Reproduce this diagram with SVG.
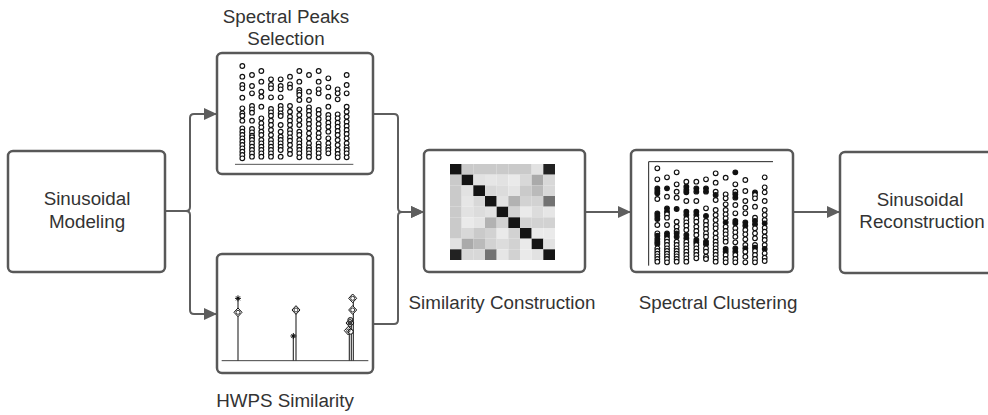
<svg xmlns="http://www.w3.org/2000/svg" width="988" height="415" viewBox="0 0 988 415">
  <style>
    .box { fill: #ffffff; stroke: #585858; stroke-width: 2.5; }
    .lbl { font-family: "Liberation Sans", Arial, sans-serif; font-size: 18.8px; fill: #333333; text-anchor: middle; }
    .wire { fill: none; stroke: #5e5e5e; stroke-width: 2; }
    .pk circle { fill: #ffffff; stroke: #111111; stroke-width: 3.6; }
    .cl circle { fill: #ffffff; stroke: #111111; stroke-width: 3.6; }
    .cl circle.f { fill: #111111; }
    .axis { stroke: #222222; stroke-width: 3; fill: none; }
    .stem { stroke: #333333; stroke-width: 3.5; fill: none; }
    .dia { fill: #ffffff; stroke: #111111; stroke-width: 3; }
    .star { stroke: #111111; stroke-width: 3; fill: none; }
  </style>
  <defs>
    <marker id="arrow" markerUnits="userSpaceOnUse" markerWidth="13" markerHeight="12" refX="13" refY="6" orient="auto">
      <path d="M0,0 L13,6 L0,12 z" fill="#5e5e5e"/>
    </marker>
  </defs>

  <rect width="988" height="415" fill="#ffffff"/>

  <!-- connectors -->
  <g id="connectors">
    <path class="wire" d="M165,211 H186 Q190,211 190,207 V118 Q190,114 194,114 H217" marker-end="url(#arrow)"/>
    <path class="wire" d="M165,211 H186 Q190,211 190,215 V310 Q190,314 194,314 H217" marker-end="url(#arrow)"/>
    <path class="wire" d="M373,114 H394 Q398,114 398,118 V208 Q398,212 402,212 H424" marker-end="url(#arrow)"/>
    <path class="wire" d="M373,324 H394 Q398,324 398,320 V216 Q398,212 402,212 H424" marker-end="url(#arrow)"/>
    <path class="wire" d="M585,212 H631" marker-end="url(#arrow)"/>
    <path class="wire" d="M793,212 H840" marker-end="url(#arrow)"/>
  </g>

  <!-- Sinusoidal Modeling -->
  <g id="modeling">
    <rect class="box" x="8" y="151" width="157" height="121" rx="5"/>
    <text class="lbl" x="87" y="205">Sinusoidal</text>
    <text class="lbl" x="87" y="228">Modeling</text>
  </g>

  <!-- Spectral Peaks Selection -->
  <g id="peaks">
    <text class="lbl" x="286" y="23">Spectral Peaks</text>
    <text class="lbl" x="286" y="45">Selection</text>
    <rect class="box" x="217" y="53" width="156" height="121" rx="5"/>
    <g class="pk" transform="translate(210,50) scale(0.33333)">
      <line class="axis" x1="75" y1="343" x2="430" y2="343" style="stroke:#555;stroke-width:3"/>
      <g transform="translate(97,0)">
        <circle r="7" cy="48"/><circle r="7" cy="80"/><circle r="7" cy="105"/><circle r="7" cy="115"/><circle r="7" cy="143"/><circle r="7" cy="175"/><circle r="7" cy="190"/><circle r="7" cy="197"/><circle r="7" cy="212"/><circle r="7" cy="235"/><circle r="7" cy="245"/><circle r="7" cy="255"/><circle r="7" cy="265"/><circle r="7" cy="275"/><circle r="7" cy="285"/><circle r="7" cy="295"/><circle r="7" cy="305"/><circle r="7" cy="315"/><circle r="7" cy="325"/>
      </g>
      <g transform="translate(126,0)">
        <circle r="7" cy="75"/><circle r="7" cy="108"/><circle r="7" cy="130"/><circle r="7" cy="168"/><circle r="7" cy="178"/><circle r="7" cy="188"/><circle r="7" cy="212"/><circle r="7" cy="237"/><circle r="7" cy="247"/><circle r="7" cy="257"/><circle r="7" cy="262"/><circle r="7" cy="270"/><circle r="7" cy="280"/><circle r="7" cy="290"/><circle r="7" cy="300"/><circle r="7" cy="310"/><circle r="7" cy="320"/>
      </g>
      <g transform="translate(154,0)">
        <circle r="7" cy="63"/><circle r="7" cy="95"/><circle r="7" cy="125"/><circle r="7" cy="140"/><circle r="7" cy="170"/><circle r="7" cy="205"/><circle r="7" cy="220"/><circle r="7" cy="232"/><circle r="7" cy="245"/><circle r="7" cy="255"/><circle r="7" cy="270"/><circle r="7" cy="280"/><circle r="7" cy="290"/><circle r="7" cy="300"/><circle r="7" cy="310"/><circle r="7" cy="320"/>
      </g>
      <g transform="translate(183,0)">
        <circle r="7" cy="88"/><circle r="7" cy="105"/><circle r="7" cy="115"/><circle r="7" cy="142"/><circle r="7" cy="177"/><circle r="7" cy="187"/><circle r="7" cy="197"/><circle r="7" cy="212"/><circle r="7" cy="225"/><circle r="7" cy="240"/><circle r="7" cy="255"/><circle r="7" cy="270"/><circle r="7" cy="280"/><circle r="7" cy="290"/><circle r="7" cy="300"/><circle r="7" cy="310"/><circle r="7" cy="320"/>
      </g>
      <g transform="translate(212,0)">
        <circle r="7" cy="88"/><circle r="7" cy="108"/><circle r="7" cy="118"/><circle r="7" cy="142"/><circle r="7" cy="168"/><circle r="7" cy="178"/><circle r="7" cy="190"/><circle r="7" cy="198"/><circle r="7" cy="225"/><circle r="7" cy="245"/><circle r="7" cy="260"/><circle r="7" cy="270"/><circle r="7" cy="280"/><circle r="7" cy="290"/><circle r="7" cy="300"/><circle r="7" cy="320"/>
      </g>
      <g transform="translate(240,0)">
        <circle r="7" cy="80"/><circle r="7" cy="103"/><circle r="7" cy="113"/><circle r="7" cy="168"/><circle r="7" cy="185"/><circle r="7" cy="200"/><circle r="7" cy="212"/><circle r="7" cy="225"/><circle r="7" cy="240"/><circle r="7" cy="250"/><circle r="7" cy="262"/><circle r="7" cy="272"/><circle r="7" cy="285"/><circle r="7" cy="300"/><circle r="7" cy="312"/>
      </g>
      <g transform="translate(268,0)">
        <circle r="7" cy="63"/><circle r="7" cy="95"/><circle r="7" cy="120"/><circle r="7" cy="127"/><circle r="7" cy="135"/><circle r="7" cy="150"/><circle r="7" cy="178"/><circle r="7" cy="195"/><circle r="7" cy="210"/><circle r="7" cy="225"/><circle r="7" cy="245"/><circle r="7" cy="255"/><circle r="7" cy="270"/><circle r="7" cy="280"/><circle r="7" cy="290"/><circle r="7" cy="300"/><circle r="7" cy="310"/><circle r="7" cy="322"/>
      </g>
      <g transform="translate(297,0)">
        <circle r="7" cy="75"/><circle r="7" cy="125"/><circle r="7" cy="150"/><circle r="7" cy="172"/><circle r="7" cy="183"/><circle r="7" cy="195"/><circle r="7" cy="210"/><circle r="7" cy="222"/><circle r="7" cy="235"/><circle r="7" cy="250"/><circle r="7" cy="265"/><circle r="7" cy="280"/><circle r="7" cy="292"/><circle r="7" cy="300"/><circle r="7" cy="310"/><circle r="7" cy="320"/>
      </g>
      <g transform="translate(326,0)">
        <circle r="7" cy="63"/><circle r="7" cy="95"/><circle r="7" cy="118"/><circle r="7" cy="130"/><circle r="7" cy="180"/><circle r="7" cy="192"/><circle r="7" cy="207"/><circle r="7" cy="222"/><circle r="7" cy="235"/><circle r="7" cy="250"/><circle r="7" cy="262"/><circle r="7" cy="280"/><circle r="7" cy="290"/><circle r="7" cy="300"/><circle r="7" cy="310"/><circle r="7" cy="322"/>
      </g>
      <g transform="translate(355,0)">
        <circle r="7" cy="85"/><circle r="7" cy="112"/><circle r="7" cy="140"/><circle r="7" cy="170"/><circle r="7" cy="195"/><circle r="7" cy="205"/><circle r="7" cy="218"/><circle r="7" cy="230"/><circle r="7" cy="245"/><circle r="7" cy="265"/><circle r="7" cy="280"/><circle r="7" cy="292"/><circle r="7" cy="300"/><circle r="7" cy="310"/>
      </g>
      <g transform="translate(383,0)">
        <circle r="7" cy="118"/><circle r="7" cy="130"/><circle r="7" cy="148"/><circle r="7" cy="193"/><circle r="7" cy="205"/><circle r="7" cy="218"/><circle r="7" cy="230"/><circle r="7" cy="243"/><circle r="7" cy="255"/><circle r="7" cy="270"/><circle r="7" cy="285"/><circle r="7" cy="300"/><circle r="7" cy="312"/><circle r="7" cy="322"/>
      </g>
      <g transform="translate(410,0)">
        <circle r="7" cy="75"/><circle r="7" cy="105"/><circle r="7" cy="130"/><circle r="7" cy="170"/><circle r="7" cy="185"/><circle r="7" cy="200"/><circle r="7" cy="215"/><circle r="7" cy="228"/><circle r="7" cy="240"/><circle r="7" cy="252"/><circle r="7" cy="265"/><circle r="7" cy="280"/><circle r="7" cy="292"/><circle r="7" cy="300"/><circle r="7" cy="310"/><circle r="7" cy="322"/>
      </g>
    </g>
  </g>

  <!-- HWPS Similarity -->
  <g id="hwps">
    <rect class="box" x="217" y="254" width="156" height="119" rx="5"/>
    <g transform="translate(210,250) scale(0.33333)">
      <line x1="35" y1="332" x2="475" y2="332" style="stroke:#444;stroke-width:3"/>
      <line class="stem" x1="84" y1="332" x2="84" y2="148"/>
      <line class="stem" x1="250" y1="332" x2="250" y2="260"/>
      <line class="stem" x1="258" y1="332" x2="258" y2="182"/>
      <line class="stem" x1="418" y1="332" x2="418" y2="225"/>
      <line class="stem" x1="424" y1="332" x2="424" y2="212"/>
      <line class="stem" x1="430" y1="332" x2="430" y2="148"/>
      <!-- asterisk markers -->
      <path class="star" d="M75,145 H93 M84,136 V154 M78,139 L90,151 M90,139 L78,151"/>
      <circle cx="84" cy="145" r="4" fill="#111"/>
      <path class="star" d="M241,258 H259 M250,249 V267 M244,252 L256,264 M256,252 L244,264"/>
      <circle cx="250" cy="258" r="4" fill="#111"/>
      <!-- diamond markers -->
      <path class="dia" d="M84,174 L96,187 L84,200 L72,187 Z"/>
      <circle cx="84" cy="187" r="6" fill="none" stroke="#111" stroke-width="2.5"/>
      <path class="dia" d="M258,167 L270,180 L258,193 L246,180 Z"/>
      <circle cx="258" cy="180" r="6" fill="none" stroke="#111" stroke-width="2.5"/>
      <path class="dia" d="M428,132 L440,145 L428,158 L416,145 Z"/>
      <circle cx="428" cy="145" r="6" fill="none" stroke="#111" stroke-width="2.5"/>
      <path class="dia" d="M428,167 L440,180 L428,193 L416,180 Z"/>
      <circle cx="428" cy="180" r="6" fill="none" stroke="#111" stroke-width="2.5"/>
      <circle cx="421" cy="210" r="7.5" fill="#fff" stroke="#111" stroke-width="3"/>
      <path class="dia" d="M420,206 L432,219 L420,232 L408,219 Z"/>
      <circle cx="420" cy="219" r="6" fill="#444" stroke="#111" stroke-width="2.5"/>
      <path class="dia" d="M415,229 L427,242 L415,255 L403,242 Z"/>
      <circle cx="422" cy="245" r="7.5" fill="#fff" stroke="#111" stroke-width="3"/>
      <circle cx="415" cy="242" r="5" fill="none" stroke="#111" stroke-width="2.5"/>
    </g>
    <text class="lbl" x="285" y="407">HWPS Similarity</text>
  </g>

  <!-- Similarity Construction -->
  <g id="similarity">
    <rect class="box" x="424" y="150" width="161" height="122" rx="5"/>
    <g transform="translate(450,164)">
      <!-- 9x9 affinity matrix, cells 11.67 x 10.67 -->
      <g>
        <rect x="0" y="0" width="11.67" height="10.67" fill="#141414"/><rect x="11.67" y="0" width="11.67" height="10.67" fill="#cacaca"/><rect x="23.33" y="0" width="11.67" height="10.67" fill="#cacaca"/><rect x="35" y="0" width="11.67" height="10.67" fill="#cacaca"/><rect x="46.67" y="0" width="11.67" height="10.67" fill="#cacaca"/><rect x="58.33" y="0" width="11.67" height="10.67" fill="#cacaca"/><rect x="70" y="0" width="11.67" height="10.67" fill="#cacaca"/><rect x="81.67" y="0" width="11.67" height="10.67" fill="#e2e2e2"/><rect x="93.33" y="0" width="11.67" height="10.67" fill="#222222"/>
      </g>
      <g transform="translate(0,10.67)">
        <rect x="0" y="0" width="11.67" height="10.67" fill="#cacaca"/><rect x="11.67" y="0" width="11.67" height="10.67" fill="#141414"/><rect x="23.33" y="0" width="11.67" height="10.67" fill="#e2e2e2"/><rect x="35" y="0" width="11.67" height="10.67" fill="#e6e6e6"/><rect x="46.67" y="0" width="11.67" height="10.67" fill="#e2e2e2"/><rect x="58.33" y="0" width="11.67" height="10.67" fill="#eaeaea"/><rect x="70" y="0" width="11.67" height="10.67" fill="#d8d8d8"/><rect x="81.67" y="0" width="11.67" height="10.67" fill="#aaaaaa"/><rect x="93.33" y="0" width="11.67" height="10.67" fill="#d8d8d8"/>
      </g>
      <g transform="translate(0,21.33)">
        <rect x="0" y="0" width="11.67" height="10.67" fill="#cacaca"/><rect x="11.67" y="0" width="11.67" height="10.67" fill="#e2e2e2"/><rect x="23.33" y="0" width="11.67" height="10.67" fill="#141414"/><rect x="35" y="0" width="11.67" height="10.67" fill="#d8d8d8"/><rect x="46.67" y="0" width="11.67" height="10.67" fill="#dcdcdc"/><rect x="58.33" y="0" width="11.67" height="10.67" fill="#e4e4e4"/><rect x="70" y="0" width="11.67" height="10.67" fill="#cacaca"/><rect x="81.67" y="0" width="11.67" height="10.67" fill="#bababa"/><rect x="93.33" y="0" width="11.67" height="10.67" fill="#d8d8d8"/>
      </g>
      <g transform="translate(0,32)">
        <rect x="0" y="0" width="11.67" height="10.67" fill="#cacaca"/><rect x="11.67" y="0" width="11.67" height="10.67" fill="#e6e6e6"/><rect x="23.33" y="0" width="11.67" height="10.67" fill="#d8d8d8"/><rect x="35" y="0" width="11.67" height="10.67" fill="#141414"/><rect x="46.67" y="0" width="11.67" height="10.67" fill="#e2e2e2"/><rect x="58.33" y="0" width="11.67" height="10.67" fill="#b2b2b2"/><rect x="70" y="0" width="11.67" height="10.67" fill="#d2d2d2"/><rect x="81.67" y="0" width="11.67" height="10.67" fill="#d2d2d2"/><rect x="93.33" y="0" width="11.67" height="10.67" fill="#727272"/>
      </g>
      <g transform="translate(0,42.67)">
        <rect x="0" y="0" width="11.67" height="10.67" fill="#cacaca"/><rect x="11.67" y="0" width="11.67" height="10.67" fill="#e2e2e2"/><rect x="23.33" y="0" width="11.67" height="10.67" fill="#dcdcdc"/><rect x="35" y="0" width="11.67" height="10.67" fill="#e2e2e2"/><rect x="46.67" y="0" width="11.67" height="10.67" fill="#141414"/><rect x="58.33" y="0" width="11.67" height="10.67" fill="#d2d2d2"/><rect x="70" y="0" width="11.67" height="10.67" fill="#eaeaea"/><rect x="81.67" y="0" width="11.67" height="10.67" fill="#dcdcdc"/><rect x="93.33" y="0" width="11.67" height="10.67" fill="#e6e6e6"/>
      </g>
      <g transform="translate(0,53.33)">
        <rect x="0" y="0" width="11.67" height="10.67" fill="#cacaca"/><rect x="11.67" y="0" width="11.67" height="10.67" fill="#eaeaea"/><rect x="23.33" y="0" width="11.67" height="10.67" fill="#e4e4e4"/><rect x="35" y="0" width="11.67" height="10.67" fill="#b2b2b2"/><rect x="46.67" y="0" width="11.67" height="10.67" fill="#d2d2d2"/><rect x="58.33" y="0" width="11.67" height="10.67" fill="#141414"/><rect x="70" y="0" width="11.67" height="10.67" fill="#d2d2d2"/><rect x="81.67" y="0" width="11.67" height="10.67" fill="#d2d2d2"/><rect x="93.33" y="0" width="11.67" height="10.67" fill="#d2d2d2"/>
      </g>
      <g transform="translate(0,64)">
        <rect x="0" y="0" width="11.67" height="10.67" fill="#cacaca"/><rect x="11.67" y="0" width="11.67" height="10.67" fill="#d8d8d8"/><rect x="23.33" y="0" width="11.67" height="10.67" fill="#cacaca"/><rect x="35" y="0" width="11.67" height="10.67" fill="#d2d2d2"/><rect x="46.67" y="0" width="11.67" height="10.67" fill="#eaeaea"/><rect x="58.33" y="0" width="11.67" height="10.67" fill="#d2d2d2"/><rect x="70" y="0" width="11.67" height="10.67" fill="#141414"/><rect x="81.67" y="0" width="11.67" height="10.67" fill="#eaeaea"/><rect x="93.33" y="0" width="11.67" height="10.67" fill="#eaeaea"/>
      </g>
      <g transform="translate(0,74.67)">
        <rect x="0" y="0" width="11.67" height="10.67" fill="#e2e2e2"/><rect x="11.67" y="0" width="11.67" height="10.67" fill="#aaaaaa"/><rect x="23.33" y="0" width="11.67" height="10.67" fill="#bababa"/><rect x="35" y="0" width="11.67" height="10.67" fill="#d2d2d2"/><rect x="46.67" y="0" width="11.67" height="10.67" fill="#dcdcdc"/><rect x="58.33" y="0" width="11.67" height="10.67" fill="#d2d2d2"/><rect x="70" y="0" width="11.67" height="10.67" fill="#eaeaea"/><rect x="81.67" y="0" width="11.67" height="10.67" fill="#141414"/><rect x="93.33" y="0" width="11.67" height="10.67" fill="#e2e2e2"/>
      </g>
      <g transform="translate(0,85.33)">
        <rect x="0" y="0" width="11.67" height="10.67" fill="#222222"/><rect x="11.67" y="0" width="11.67" height="10.67" fill="#d8d8d8"/><rect x="23.33" y="0" width="11.67" height="10.67" fill="#d8d8d8"/><rect x="35" y="0" width="11.67" height="10.67" fill="#727272"/><rect x="46.67" y="0" width="11.67" height="10.67" fill="#e6e6e6"/><rect x="58.33" y="0" width="11.67" height="10.67" fill="#d2d2d2"/><rect x="70" y="0" width="11.67" height="10.67" fill="#eaeaea"/><rect x="81.67" y="0" width="11.67" height="10.67" fill="#e2e2e2"/><rect x="93.33" y="0" width="11.67" height="10.67" fill="#141414"/>
      </g>
    </g>
    <text class="lbl" x="502" y="309">Similarity Construction</text>
  </g>

  <!-- Spectral Clustering -->
  <g id="clustering">
    <rect class="box" x="631" y="150" width="162" height="122" rx="5"/>
    <g class="cl" transform="translate(628,145) scale(0.33333)">
      <path class="axis" d="M435,50 H62 V362"/>
      <g transform="translate(88,0)">
        <circle r="7" cy="70"/><circle r="7" cy="103"/><circle class="f" r="7" cy="130"/><circle class="f" r="7" cy="138"/><circle class="f" r="7" cy="145"/><circle r="7" cy="162"/><circle class="f" r="7" cy="205"/><circle class="f" r="7" cy="213"/><circle class="f" r="7" cy="222"/><circle r="7" cy="240"/><circle r="7" cy="265"/><circle class="f" r="7" cy="272"/><circle class="f" r="7" cy="282"/><circle class="f" r="7" cy="290"/><circle class="f" r="7" cy="297"/><circle r="7" cy="310"/><circle r="7" cy="318"/><circle r="7" cy="326"/><circle r="7" cy="334"/><circle r="7" cy="342"/><circle r="7" cy="350"/>
      </g>
      <g transform="translate(117,0)">
        <circle r="7" cy="97"/><circle class="f" r="7" cy="130"/><circle r="7" cy="155"/><circle class="f" r="7" cy="190"/><circle class="f" r="7" cy="200"/><circle r="7" cy="208"/><circle r="7" cy="218"/><circle r="7" cy="240"/><circle class="f" r="7" cy="265"/><circle class="f" r="7" cy="273"/><circle r="7" cy="282"/><circle r="7" cy="290"/><circle r="7" cy="300"/><circle r="7" cy="310"/><circle r="7" cy="318"/><circle r="7" cy="326"/><circle r="7" cy="334"/><circle r="7" cy="342"/><circle r="7" cy="352"/>
      </g>
      <g transform="translate(146,0)">
        <circle r="7" cy="82"/><circle r="7" cy="118"/><circle r="7" cy="140"/><circle r="7" cy="158"/><circle class="f" r="7" cy="192"/><circle r="7" cy="230"/><circle r="7" cy="245"/><circle r="7" cy="258"/><circle class="f" r="7" cy="265"/><circle class="f" r="7" cy="275"/><circle r="7" cy="290"/><circle r="7" cy="300"/><circle r="7" cy="310"/><circle r="7" cy="318"/><circle r="7" cy="326"/><circle r="7" cy="334"/><circle r="7" cy="342"/><circle r="7" cy="350"/>
      </g>
      <g transform="translate(175,0)">
        <circle r="7" cy="110"/><circle class="f" r="7" cy="125"/><circle class="f" r="7" cy="135"/><circle class="f" r="7" cy="142"/><circle r="7" cy="168"/><circle class="f" r="7" cy="200"/><circle class="f" r="7" cy="210"/><circle r="7" cy="222"/><circle r="7" cy="232"/><circle r="7" cy="242"/><circle r="7" cy="255"/><circle class="f" r="7" cy="270"/><circle class="f" r="7" cy="280"/><circle r="7" cy="290"/><circle r="7" cy="300"/><circle r="7" cy="310"/><circle r="7" cy="320"/><circle r="7" cy="330"/><circle r="7" cy="340"/><circle r="7" cy="350"/>
      </g>
      <g transform="translate(205,0)">
        <circle r="7" cy="110"/><circle class="f" r="7" cy="130"/><circle class="f" r="7" cy="140"/><circle r="7" cy="168"/><circle class="f" r="7" cy="200"/><circle class="f" r="7" cy="210"/><circle r="7" cy="220"/><circle r="7" cy="230"/><circle r="7" cy="245"/><circle r="7" cy="258"/><circle r="7" cy="270"/><circle class="f" r="7" cy="285"/><circle class="f" r="7" cy="292"/><circle r="7" cy="300"/><circle r="7" cy="310"/><circle r="7" cy="320"/><circle r="7" cy="330"/><circle r="7" cy="340"/>
      </g>
      <g transform="translate(234,0)">
        <circle r="7" cy="103"/><circle class="f" r="7" cy="130"/><circle class="f" r="7" cy="140"/><circle r="7" cy="190"/><circle class="f" r="7" cy="213"/><circle r="7" cy="228"/><circle r="7" cy="240"/><circle r="7" cy="252"/><circle r="7" cy="265"/><circle r="7" cy="275"/><circle class="f" r="7" cy="290"/><circle class="f" r="7" cy="298"/><circle r="7" cy="310"/><circle r="7" cy="320"/><circle r="7" cy="335"/><circle r="7" cy="342"/>
      </g>
      <g transform="translate(263,0)">
        <circle r="7" cy="85"/><circle r="7" cy="113"/><circle r="7" cy="140"/><circle class="f" r="7" cy="150"/><circle r="7" cy="165"/><circle r="7" cy="195"/><circle r="7" cy="210"/><circle r="7" cy="225"/><circle r="7" cy="240"/><circle r="7" cy="250"/><circle r="7" cy="265"/><circle r="7" cy="278"/><circle r="7" cy="290"/><circle r="7" cy="300"/><circle r="7" cy="310"/><circle r="7" cy="320"/><circle r="7" cy="330"/><circle r="7" cy="340"/><circle r="7" cy="350"/>
      </g>
      <g transform="translate(293,0)">
        <circle r="7" cy="98"/><circle r="7" cy="148"/><circle r="7" cy="160"/><circle r="7" cy="178"/><circle r="7" cy="195"/><circle r="7" cy="208"/><circle r="7" cy="220"/><circle class="f" r="7" cy="232"/><circle r="7" cy="245"/><circle r="7" cy="258"/><circle r="7" cy="268"/><circle r="7" cy="280"/><circle r="7" cy="290"/><circle class="f" r="7" cy="312"/><circle class="f" r="7" cy="320"/><circle r="7" cy="330"/><circle r="7" cy="342"/><circle r="7" cy="352"/>
      </g>
      <g transform="translate(322,0)">
        <circle class="f" r="7" cy="82"/><circle r="7" cy="118"/><circle r="7" cy="140"/><circle class="f" r="7" cy="148"/><circle class="f" r="7" cy="158"/><circle r="7" cy="180"/><circle r="7" cy="205"/><circle class="f" r="7" cy="228"/><circle class="f" r="7" cy="235"/><circle r="7" cy="250"/><circle r="7" cy="262"/><circle r="7" cy="275"/><circle r="7" cy="292"/><circle class="f" r="7" cy="310"/><circle class="f" r="7" cy="320"/><circle r="7" cy="330"/><circle r="7" cy="342"/><circle r="7" cy="352"/>
      </g>
      <g transform="translate(352,0)">
        <circle r="7" cy="105"/><circle r="7" cy="138"/><circle r="7" cy="168"/><circle r="7" cy="188"/><circle r="7" cy="205"/><circle class="f" r="7" cy="232"/><circle class="f" r="7" cy="242"/><circle r="7" cy="255"/><circle r="7" cy="268"/><circle r="7" cy="283"/><circle r="7" cy="300"/><circle class="f" r="7" cy="310"/><circle r="7" cy="320"/><circle r="7" cy="335"/><circle r="7" cy="352"/>
      </g>
      <g transform="translate(381,0)">
        <circle class="f" r="7" cy="142"/><circle r="7" cy="150"/><circle r="7" cy="160"/><circle r="7" cy="185"/><circle r="7" cy="218"/><circle class="f" r="7" cy="228"/><circle class="f" r="7" cy="238"/><circle r="7" cy="250"/><circle r="7" cy="265"/><circle r="7" cy="280"/><circle r="7" cy="300"/><circle class="f" r="7" cy="308"/><circle r="7" cy="318"/><circle r="7" cy="330"/><circle r="7" cy="342"/><circle r="7" cy="352"/>
      </g>
      <g transform="translate(410,0)">
        <circle r="7" cy="97"/><circle r="7" cy="127"/><circle r="7" cy="142"/><circle r="7" cy="168"/><circle r="7" cy="195"/><circle r="7" cy="210"/><circle r="7" cy="225"/><circle class="f" r="7" cy="235"/><circle r="7" cy="248"/><circle r="7" cy="260"/><circle r="7" cy="275"/><circle r="7" cy="285"/><circle r="7" cy="300"/><circle class="f" r="7" cy="312"/><circle r="7" cy="325"/><circle r="7" cy="338"/><circle r="7" cy="348"/>
      </g>
    </g>
    <text class="lbl" x="718" y="309">Spectral Clustering</text>
  </g>

  <!-- Sinusoidal Reconstruction -->
  <g id="reconstruction">
    <rect class="box" x="840" y="152" width="165" height="121" rx="5"/>
    <text class="lbl" x="920" y="206">Sinusoidal</text>
    <text class="lbl" x="922" y="228">Reconstruction</text>
  </g>
</svg>
